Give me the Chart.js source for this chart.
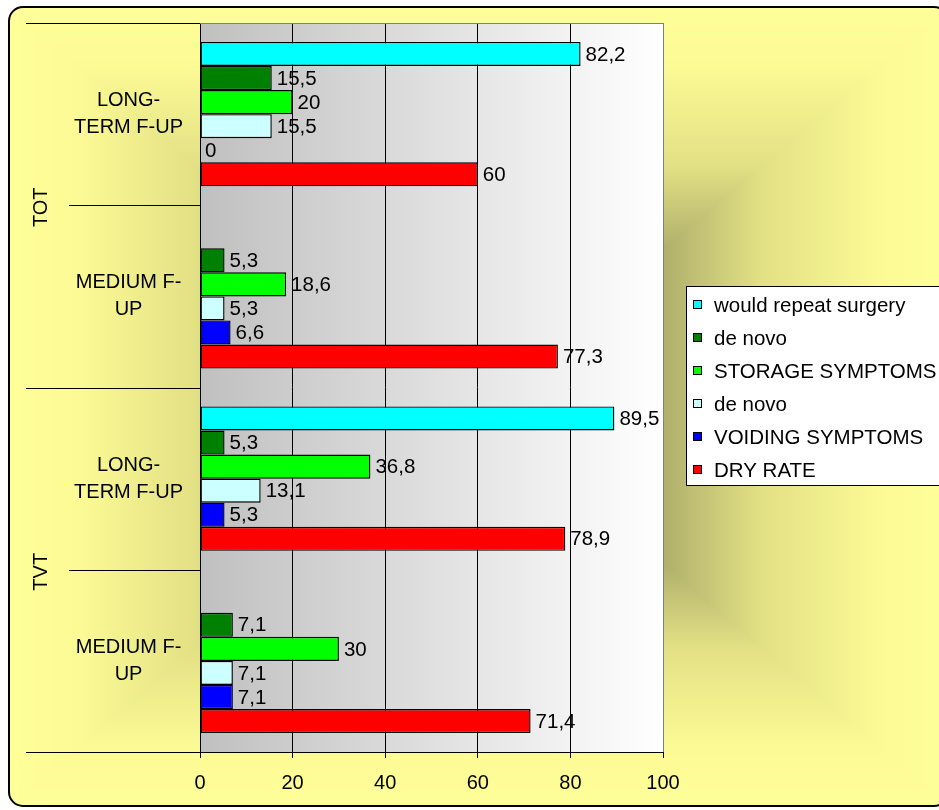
<!DOCTYPE html>
<html>
<head>
<meta charset="utf-8">
<script src="https://cdn.jsdelivr.net/npm/chart.js@4/dist/chart.umd.min.js"></script>
<style>
  html, body { margin: 0; padding: 0; background: #ffffff; }
  #wrap { width: 939px; height: 810px; position: relative; }
</style>
</head>
<body>
<div id="wrap"><canvas id="chart" width="939" height="810"></canvas></div>
<script>
// ---- data ----
const categories = [
  ['LONG-', 'TERM F-UP'],
  ['MEDIUM F-', 'UP'],
  ['LONG-', 'TERM F-UP'],
  ['MEDIUM F-', 'UP']
];
const groups = ['TOT', 'TVT'];          // each group spans two categories
const seriesNames = ['would repeat surgery', 'de novo', 'STORAGE SYMPTOMS', 'de novo', 'VOIDING SYMPTOMS', 'DRY RATE'];
const wouldRepeatSurgery = [82.2, null, 89.5, null];
const deNovoStorage      = [15.5, 5.3, 5.3, 7.1];
const storageSymptoms    = [20, 18.6, 36.8, 30];
const deNovoVoiding      = [15.5, 5.3, 13.1, 7.1];
const voidingSymptoms    = [0, 6.6, 5.3, 7.1];
const dryRate            = [60, 77.3, 78.9, 71.4];
const xMin = 0, xMax = 100, xStep = 20;

const seriesValues = [wouldRepeatSurgery, deNovoStorage, storageSymptoms, deNovoVoiding, voidingSymptoms, dryRate];
const seriesColors = ['#00FFFF', '#008000', '#00FF00', '#CCFFFF', '#0000FF', '#FF0000'];

const FONT = '"Liberation Sans", Arial, sans-serif';

// ---- frame + backdrop ----
const frame = { l: 9, t: 7, r: 948, b: 806, radius: 14 };

function roundRectPath(ctx, l, t, r, b, rad) {
  ctx.beginPath();
  ctx.moveTo(l + rad, t);
  ctx.lineTo(r - rad, t);
  ctx.arcTo(r, t, r, t + rad, rad);
  ctx.lineTo(r, b - rad);
  ctx.arcTo(r, b, r - rad, b, rad);
  ctx.lineTo(l + rad, b);
  ctx.arcTo(l, b, l, b - rad, rad);
  ctx.lineTo(l, t + rad);
  ctx.arcTo(l, t, l + rad, t, rad);
  ctx.closePath();
}

// rectangular "from centre" shading: khaki in the middle, pale yellow at the frame
const shadeStops = [
  [0.00, [140, 140, 80]],
  [0.38, [172, 172, 106]],
  [0.60, [226, 224, 132]],
  [0.85, [251, 250, 149]],
  [1.00, [255, 255, 153]]
];
function shadeAt(t) {
  for (let i = 1; i < shadeStops.length; i++) {
    if (t <= shadeStops[i][0]) {
      const [t0, c0] = shadeStops[i - 1], [t1, c1] = shadeStops[i];
      const f = (t - t0) / (t1 - t0);
      return [c0[0] + (c1[0] - c0[0]) * f, c0[1] + (c1[1] - c0[1]) * f, c0[2] + (c1[2] - c0[2]) * f];
    }
  }
  return shadeStops[shadeStops.length - 1][1];
}
let backdropCache = null;
function backdrop(w, h) {
  if (backdropCache) return backdropCache;
  const off = document.createElement('canvas');
  off.width = w; off.height = h;
  const octx = off.getContext('2d');
  const img = octx.createImageData(w, h);
  const cx = (frame.l + frame.r) / 2, cy = (frame.t + frame.b) / 2;
  const hw = (frame.r - frame.l) / 2, hh = (frame.b - frame.t) / 2;
  for (let y = 0; y < h; y++) {
    for (let x = 0; x < w; x++) {
      const t = Math.min(1, Math.max(Math.abs(x + 0.5 - cx) / hw, Math.abs(y + 0.5 - cy) / hh));
      const c = shadeAt(t);
      const k = (y * w + x) * 4;
      img.data[k] = c[0]; img.data[k + 1] = c[1]; img.data[k + 2] = c[2]; img.data[k + 3] = 255;
    }
  }
  octx.putImageData(img, 0, 0);
  backdropCache = off;
  return off;
}

const decorPlugin = {
  id: 'decor',
  beforeDraw(chart) {
    const { ctx, chartArea: a, width, height } = chart;
    ctx.save();
    ctx.fillStyle = '#ffffff';
    ctx.fillRect(0, 0, width, height);
    roundRectPath(ctx, frame.l, frame.t, frame.r, frame.b, frame.radius);
    ctx.clip();
    ctx.drawImage(backdrop(width, height), 0, 0);
    ctx.restore();

    // plot area: grey to white from left to right
    ctx.save();
    const g = ctx.createLinearGradient(a.left, 0, a.right, 0);
    g.addColorStop(0, '#C0C0C0');
    g.addColorStop(1, '#FFFFFF');
    ctx.fillStyle = g;
    ctx.fillRect(a.left, a.top, a.right - a.left, a.bottom - a.top);
    ctx.restore();
  },
  afterDraw(chart) {
    const { ctx, chartArea: a } = chart;
    const ys = chart.scales.y;

    // grey plot border on top and right
    ctx.save();
    ctx.strokeStyle = '#808080';
    ctx.lineWidth = 1;
    ctx.beginPath();
    ctx.moveTo(a.left, Math.round(a.top) + 0.5);
    ctx.lineTo(Math.round(a.right) + 0.5, Math.round(a.top) + 0.5);
    ctx.lineTo(Math.round(a.right) + 0.5, a.bottom);
    ctx.stroke();
    ctx.restore();

    // two-level category axis: separators and group labels
    const n = categories.length;
    const bound = [];
    for (let i = 0; i <= n; i++) {
      if (i === 0) bound.push(ys.top);
      else if (i === n) bound.push(ys.bottom);
      else bound.push((ys.getPixelForTick(i - 1) + ys.getPixelForTick(i)) / 2);
    }
    const perGroup = n / groups.length;
    ctx.save();
    ctx.strokeStyle = '#000000';
    ctx.lineWidth = 1;
    for (let i = 0; i <= n; i++) {
      const outer = i % perGroup === 0;
      const x0 = outer ? 26 : 69;
      const y = Math.round(bound[i]) + 0.5;
      ctx.beginPath();
      ctx.moveTo(x0, y);
      ctx.lineTo(a.left, y);
      ctx.stroke();
    }
    ctx.fillStyle = '#000000';
    ctx.font = '20px ' + FONT;
    ctx.textAlign = 'center';
    ctx.textBaseline = 'middle';
    groups.forEach((gName, gi) => {
      const yMid = (bound[gi * perGroup] + bound[(gi + 1) * perGroup]) / 2;
      ctx.save();
      ctx.translate(41, yMid + 2);
      ctx.rotate(-Math.PI / 2);
      ctx.fillText(gName, 0, 0);
      ctx.restore();
    });
    ctx.restore();

    // value labels at the bar ends
    ctx.save();
    ctx.fillStyle = '#000000';
    ctx.font = '20.5px ' + FONT;
    ctx.textAlign = 'left';
    ctx.textBaseline = 'middle';
    chart.data.datasets.forEach((ds, di) => {
      const meta = chart.getDatasetMeta(di);
      meta.data.forEach((bar, i) => {
        const v = ds.data[i];
        if (v === null || v === undefined) return;
        ctx.fillText(String(v).replace('.', ','), bar.x + 5, bar.y + 1);
      });
    });
    ctx.restore();

    // legend box
    const lx = a.right + 23, ly = 286, lh = 199, lw = 300;
    ctx.save();
    ctx.fillStyle = '#FFFFFF';
    ctx.fillRect(lx, ly, lw, lh);
    ctx.strokeStyle = '#000000';
    ctx.lineWidth = 1;
    ctx.strokeRect(lx + 0.5, ly + 0.5, lw, lh);
    ctx.font = '20.5px ' + FONT;
    ctx.textAlign = 'left';
    ctx.textBaseline = 'middle';
    chart.data.datasets.forEach((ds, di) => {
      const cy = ly + 19 + di * 33;
      ctx.fillStyle = ds.backgroundColor;
      ctx.fillRect(lx + 7, Math.round(cy - 5), 9, 9);
      ctx.strokeStyle = '#000000';
      ctx.strokeRect(lx + 7.5, Math.round(cy - 5) + 0.5, 8, 8);
      ctx.fillStyle = '#000000';
      ctx.fillText(ds.label, lx + 28, cy + 1);
    });
    ctx.restore();

    // outer frame
    ctx.save();
    ctx.strokeStyle = '#000000';
    ctx.lineWidth = 2;
    roundRectPath(ctx, frame.l, frame.t, frame.r, frame.b, frame.radius);
    ctx.stroke();
    ctx.restore();
  }
};

const datasets = seriesNames.map((name, i) => ({
  label: name,
  data: seriesValues[i],
  backgroundColor: seriesColors[i],
  borderColor: '#000000',
  borderWidth: 1.4,
  borderSkipped: false,
  barPercentage: 1.0,
  categoryPercentage: 0.792
}));

new Chart(document.getElementById('chart'), {
  type: 'bar',
  data: { labels: categories, datasets },
  options: {
    indexAxis: 'y',
    responsive: false,
    animation: false,
    layout: { padding: { top: 23, right: 276, left: 0, bottom: 0 } },
    plugins: { legend: { display: false }, tooltip: { enabled: false } },
    scales: {
      x: {
        min: xMin, max: xMax,
        afterFit(s) { s.height = 58; s.paddingLeft = 0; s.paddingRight = 0; },
        ticks: { stepSize: xStep, color: '#000000', padding: 13, font: { family: FONT, size: 20 } },
        grid: {
          color: (c) => (c.tick && c.tick.value === xMax ? '#808080' : '#000000'),
          tickColor: '#000000',
          tickLength: 6,
          lineWidth: 1
        },
        border: { color: '#000000', width: 1 }
      },
      y: {
        afterFit(s) { s.width = 200; s.paddingTop = 0; s.paddingBottom = 0; },
        ticks: {
          color: '#000000',
          crossAlign: 'center',
          padding: 17,
          font: { family: FONT, size: 20, lineHeight: 1.35 }
        },
        grid: { display: false, drawTicks: false },
        border: { color: '#000000', width: 1 }
      }
    }
  },
  plugins: [decorPlugin]
});
</script>
</body>
</html>
